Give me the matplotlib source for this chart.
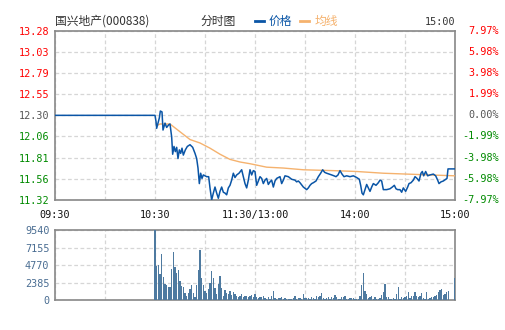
"""
Intraday minute chart (分时图) for 国兴地产 000838: price + average line,
with per-minute volume bars underneath.
"""

import numpy as np
import matplotlib
matplotlib.use("Agg")
import matplotlib.pyplot as plt

plt.rcParams["font.family"] = ["DejaVu Sans Mono", "Noto Sans CJK SC"]

# ---------------------------------------------------------------- data
prev_close = 12.30
price_ticks = [13.28, 13.03, 12.79, 12.55, 12.30, 12.06, 11.81, 11.56, 11.32]
pct_ticks = ["7.97%", "5.98%", "3.98%", "1.99%", "0.00%",
             "-1.99%", "-3.98%", "-5.98%", "-7.97%"]
vol_ticks = [0, 2385, 4770, 7155, 9540]
time_ticks = [0, 60, 120, 180, 240]
time_labels = ["09:30", "10:30", "11:30/13:00", "14:00", "15:00"]

# minutes since 09:30 (lunch break collapsed)
price_t = [0, 60, 60.6, 61, 61.8, 62.6, 63.2, 64.2, 64.8, 66, 67, 68.2, 69,
           70, 70.6, 71.4, 72.2, 73, 73.8, 74.6, 75.4, 76.2, 77, 78.2, 79.4,
           81, 82.6, 84, 85, 85.8, 86.6, 87.4, 88.2, 89, 91, 92.2, 93, 94,
           95, 96, 97, 98, 99, 100, 101,
           102, 103, 104, 105, 106, 107, 108, 109, 110.4, 112, 113, 114, 115,
           116, 117, 118, 119, 120, 121, 122, 123, 124, 125, 126, 127, 128,
           129, 130, 131, 132, 133, 134, 135, 136, 137, 138, 140, 142, 144,
           145, 146,
           147, 149, 151, 152, 153, 154, 155, 156.6, 158, 159.4, 160.6,
           161.8, 163, 164.6, 166, 167.4, 168.6, 169.8, 171, 172.2, 173.4,
           175, 177, 179, 181, 182.6, 183.4, 184.2, 185, 186, 187, 188, 189,
           190, 191, 192.6, 194,
           195, 196, 197, 199, 201, 202.4, 203.6, 204.6, 205.6, 207, 208,
           209, 210.4, 211.6, 212.4, 213.6, 215, 216, 217.2, 218.4, 219.6,
           220.4, 221.2, 222.4, 223.6, 225, 227, 228.4, 229.6, 230.4, 231.6,
           233, 234.4, 235.2, 235.8, 240]
price = [12.30, 12.30, 12.23, 12.15, 12.21, 12.27, 12.35, 12.34, 12.13, 12.21,
         12.16, 12.19, 12.20,
         12.05, 11.85, 11.94, 11.88, 11.93, 11.80, 11.90, 11.86, 11.92, 11.84,
         11.90, 11.94, 11.96, 11.93, 11.86, 11.80, 11.69, 11.51, 11.63, 11.57,
         11.61, 11.59, 11.59, 11.46, 11.32, 11.40, 11.47, 11.40, 11.34, 11.42,
         11.47, 11.41,
         11.40, 11.38, 11.46, 11.49, 11.55, 11.63, 11.58, 11.61, 11.63, 11.67,
         11.59, 11.51, 11.46, 11.55, 11.67, 11.61, 11.66, 11.65, 11.49, 11.54,
         11.59, 11.57, 11.51, 11.55, 11.57, 11.50, 11.53, 11.55, 11.47, 11.54,
         11.57, 11.58, 11.59, 11.51, 11.55, 11.60, 11.59, 11.56, 11.55, 11.53,
         11.54,
         11.52, 11.47, 11.44, 11.46, 11.49, 11.51, 11.52, 11.54, 11.59, 11.63,
         11.67, 11.64, 11.63, 11.62, 11.61, 11.60, 11.59, 11.61, 11.66, 11.62,
         11.59, 11.60, 11.59, 11.60, 11.58, 11.56, 11.49, 11.40, 11.38, 11.44,
         11.50, 11.46, 11.42, 11.47, 11.51, 11.49, 11.52,
         11.55, 11.54, 11.44, 11.44, 11.45, 11.47, 11.49, 11.45, 11.44, 11.44,
         11.41, 11.46, 11.42, 11.47, 11.51, 11.52, 11.55, 11.59, 11.57, 11.54,
         11.63, 11.65, 11.60, 11.65, 11.60, 11.61, 11.62, 11.60, 11.55, 11.51,
         11.53, 11.54, 11.56, 11.57, 11.68, 11.68]

avg_t = [61, 63, 69, 75, 81, 87, 93, 99, 105, 111, 117, 127, 137, 149, 167,
         181, 197, 211, 225, 240]
avg_price = [12.18, 12.20, 12.20, 12.11, 12.02, 11.98, 11.92, 11.85, 11.79,
             11.76, 11.74, 11.70, 11.69, 11.67, 11.66, 11.65, 11.63, 11.62,
             11.61, 11.60]

# one bar per minute, 10:30 .. 15:00
vol_start = 60
volume = [
    9540, 4620, 4770, 3580, 6310, 3180, 2220, 2130, 1770, 1860,
    4310, 6580, 4540, 3720, 4130, 2680, 1900, 1770, 1000, 540,
    1000, 1540, 2130, 1000, 450, 2040, 4130, 6850, 3040, 2040,
    1310, 1000, 1540, 2360, 3950, 3040, 1680, 860, 2220, 3270,
    1680, 540, 1450, 1000, 860, 1220, 770, 1090, 860, 540,
    410, 540, 860, 410, 540, 540, 410, 630, 770, 410,
    860, 410, 320, 500, 410, 630, 320, 230, 410, 230,
    540, 1310, 320, 230, 270, 270, 400, 230, 270, 230,
    140, 180, 180, 300, 590, 180, 320, 270, 180, 860,
    270, 320, 270, 140, 400, 320, 180, 590, 400, 590,
    1000, 320, 180, 270, 400, 140, 500, 270, 720, 400,
    230, 180, 500, 400, 590, 180, 180, 320, 320, 320,
    180, 140, 180, 590, 2090, 3770, 1310, 860, 360, 400,
    590, 230, 400, 180, 180, 360, 720, 1130, 2270, 450,
    450, 180, 180, 320, 180, 860, 1810, 180, 400, 320,
    400, 590, 1130, 270, 590, 590, 1130, 590, 400, 590,
    1000, 320, 180, 1130, 180, 320, 450, 450, 590, 720,
    1130, 1400, 1540, 720, 860, 1130, 1270, 0, 0, 0,
    3000,
]

# ---------------------------------------------------------------- style
RED = "#ff0000"
GREEN = "#008a00"
GRAY = "#555555"
BLUE = "#0a55a6"
ORANGE = "#f5b26e"
VOLC = "#4e7aa0"
GRID = "#d6d6d6"
SPINE = "#888888"
FS = 7.3
CJK = ["Noto Sans CJK SC", "DejaVu Sans"]

fig = plt.figure(figsize=(5.05, 3.30), dpi=100)
ax = fig.add_axes([55 / 505, 1 - 200 / 330, 400 / 505, 169.3 / 330])
axv = fig.add_axes([55 / 505, 1 - 300.3 / 330, 400 / 505, 70 / 330])

for a in (ax, axv):
    a.set_xlim(0, 240)
    a.set_xticks(np.arange(0, 241, 30))
    a.grid(True, color=GRID, linestyle=(0, (3, 2)), linewidth=0.9)
    a.set_axisbelow(True)
    for s in a.spines.values():
        s.set_color(SPINE)
        s.set_linewidth(1.2)
    a.tick_params(length=0)

# --- price panel
ax.set_ylim(price_ticks[-1], price_ticks[0])
ax.set_yticks(price_ticks)
ax.set_yticklabels([f"{v:.2f}" for v in price_ticks], fontsize=FS)
for lbl, v in zip(ax.get_yticklabels(), price_ticks):
    lbl.set_color(RED if v > prev_close else (GREEN if v < prev_close else GRAY))
ax.tick_params(axis="y", pad=4)
ax.set_xticklabels([])

ax.plot(avg_t, avg_price, color=ORANGE, linewidth=1.0, zorder=3)
ax.plot(price_t, price, color=BLUE, linewidth=1.1, zorder=4)

for v, txt in zip(price_ticks, pct_ticks):
    c = RED if v > prev_close else (GREEN if v < prev_close else GRAY)
    ax.text(1.11, v, txt, transform=ax.get_yaxis_transform(), ha="right",
            va="center", fontsize=FS, color=c)

for t, lab in zip(time_ticks, time_labels):
    ax.text(t, -0.09, lab, transform=ax.get_xaxis_transform(), ha="center",
            va="center", fontsize=FS, color="#111111")

# --- header
fig.text(55 / 505, 1 - 21.5 / 330, "国兴地产(000838)", fontsize=8.5,
         color="#333333", va="center", family=CJK)
fig.text(218 / 505, 1 - 21.5 / 330, "分时图", fontsize=8.5, color="#333333",
         ha="center", va="center", family=CJK)
fig.add_artist(plt.Line2D([255 / 505, 264 / 505], [1 - 21 / 330] * 2,
                          color=BLUE, linewidth=2))
fig.text(269 / 505, 1 - 21.5 / 330, "价格", fontsize=8.5, color=BLUE,
         va="center", family=CJK)
fig.add_artist(plt.Line2D([300 / 505, 309 / 505], [1 - 21 / 330] * 2,
                          color=ORANGE, linewidth=2))
fig.text(315 / 505, 1 - 21.5 / 330, "均线", fontsize=8.5, color=ORANGE,
         va="center", family=CJK)
fig.text(455 / 505, 1 - 22 / 330, "15:00", fontsize=FS, color="#333333",
         ha="right", va="center")

# --- volume panel
vx = np.arange(vol_start, vol_start + len(volume))
axv.bar(vx, volume, width=0.65, color=VOLC, zorder=3)
axv.set_ylim(0, vol_ticks[-1])
axv.set_yticks(vol_ticks)
axv.set_yticklabels([str(v) for v in vol_ticks], fontsize=FS, color="#4a6d92")
axv.tick_params(axis="y", pad=4)
axv.set_xticklabels([])

fig.savefig("out.png", dpi=100)
